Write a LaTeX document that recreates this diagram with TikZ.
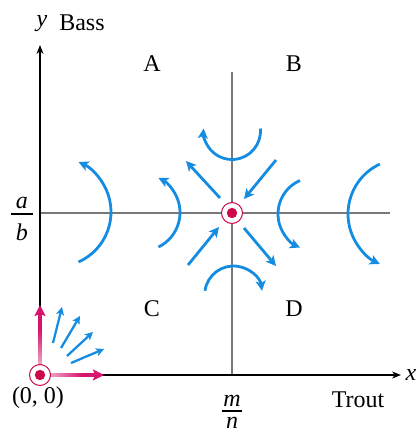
\documentclass[tikz,border=0pt]{standalone}
\usepackage{fontspec}
\setmainfont{Liberation Serif}
\usetikzlibrary{arrows.meta}
\definecolor{flowblue}{RGB}{20,140,225}
\definecolor{eqred}{RGB}{205,10,75}
\definecolor{magarrow}{RGB}{215,20,110}
\definecolor{gridgray}{RGB}{120,120,120}
\begin{document}
\begin{tikzpicture}[x=1pt,y=-1pt,
  lbl/.style={inner sep=0pt,font=\fontsize{24}{28}\selectfont},
  flow/.style={draw=flowblue,line width=2.8pt,-{Stealth[length=10pt,width=10pt,inset=2.5pt]}},
  smallflow/.style={draw=flowblue,line width=2.3pt,-{Stealth[length=8pt,width=8pt,inset=2pt]}},
  axis/.style={draw=black,line width=1.4pt,-{Stealth[length=9pt,width=7pt]}},
  gridline/.style={draw=gridgray,line width=1.5pt},
  fracbar/.style={draw=black,line width=1.2pt},
  magflow/.style={draw=magarrow,line width=3.5pt,-{Stealth[length=11pt,width=11pt,inset=2pt]}}
]
\useasboundingbox (0,0) rectangle (417,432);
% coordinates
\coordinate (O) at (40,375);
\coordinate (E) at (232,213);
\coordinate (ytip) at (40,45);
\coordinate (xtip) at (401,375);
\coordinate (vtop) at (232,72);
\coordinate (hleft) at (40,213);
\coordinate (hright) at (390,213);
% grey lines
\draw[gridline] (vtop) -- (E |- O);
\draw[gridline] (hleft) -- (hright);
% axes
\draw[axis] (O) -- (ytip);
\draw[axis] (O) -- (xtip);
% labels
\node[lbl] (ylab) at (42,24) {\textit{y}};
\node[lbl] (bass) at (82,23) {Bass};
\node[lbl] (xlab) at (411,375) {\textit{x}};
\node[lbl] (trout) at (358,400) {Trout};
\node[lbl] (orig) at (38,398) {(0, 0)};
\node[lbl] (A) at (152,64) {A};
\node[lbl] (B) at (294,64) {B};
\node[lbl] (C) at (152,309) {C};
\node[lbl] (D) at (294,309) {D};
% fractions
\node[lbl,anchor=base] (m) at (232,406) {\textit{m}};
\node[lbl,anchor=base] (n) at (232,428) {\textit{n}};
\draw[fracbar] (222,411) -- (242,411);
\node[lbl,anchor=base] (a) at (22,208) {\textit{a}};
\node[lbl,anchor=base] (b) at (22,240) {\textit{b}};
\draw[fracbar] (11,214) -- (33,214);
% arcs (circular)
\draw[flow] (56.3,212) ++(66:54.7) arc[start angle=66,end angle=-66,radius=54.7];
\draw[flow] (141.6,212.5) ++(64:38.4) arc[start angle=64,end angle=-64,radius=38.4];
\draw[flow] (314.5,214) ++(246.6:36.5) arc[start angle=246.6,end angle=113.4,radius=36.5];
\draw[flow] (403.1,214) ++(245:55.1) arc[start angle=245,end angle=115,radius=55.1];
\draw[flow] (232,131) ++(-5:28.5) arc[start angle=-5,end angle=185,radius=28.5];
\draw[flow] (233.5,294.8) ++(188:28.8) arc[start angle=188,end angle=352,radius=28.8];
% diagonals
\draw[flow] (220,198) -- (186,161);
\draw[flow] (276,160) -- (244,199);
\draw[flow] (188,265) -- (219,227);
\draw[flow] (244,228) -- (276,266);
% equilibrium point
\node[circle,draw=eqred,line width=1pt,fill=white,minimum size=21pt,inner sep=0pt] (eq) at (E) {};
\fill[eqred] (E) circle (5.2pt);
% origin arrows
\coordinate (Oup) at (40,305);
\coordinate (Oright) at (104,375);
\draw[magflow] (O) -- (Oup);
\draw[magflow] (O) -- (Oright);
\shade[bottom color=magarrow!25,top color=magarrow] (38.25,372) rectangle (41.75,330);
\shade[left color=magarrow!25,right color=magarrow] (43,373.25) rectangle (82,376.75);
\draw[smallflow] (53,343) -- (62,307);
\draw[smallflow] (61,348) -- (80,316);
\draw[smallflow] (67,356) -- (93,332);
\draw[smallflow] (71,363) -- (104,349);
\node[circle,draw=eqred,line width=1pt,fill=white,minimum size=21pt,inner sep=0pt] (oc) at (O) {};
\fill[eqred] (O) circle (5.2pt);
\end{tikzpicture}
\end{document}
